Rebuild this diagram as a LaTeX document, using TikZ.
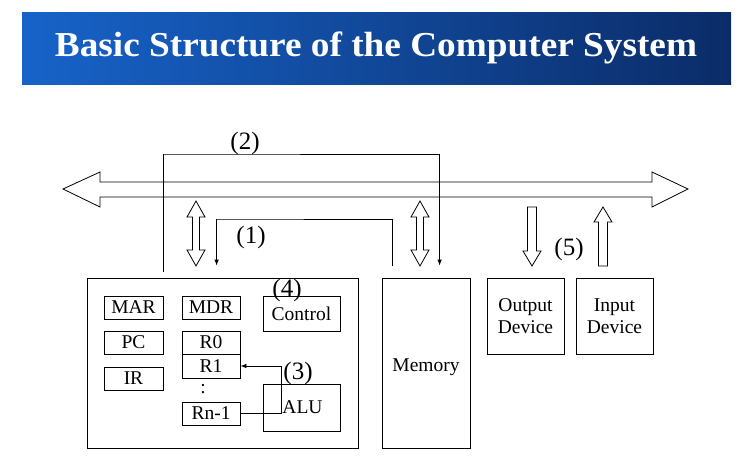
\documentclass[tikz,border=0pt]{standalone}
\usepackage{fontspec}
\setmainfont{Liberation Serif}
\usetikzlibrary{arrows.meta,calc}
\definecolor{bannerL}{HTML}{1763C9}
\definecolor{bannerR}{HTML}{0B2C68}
\begin{document}
\begin{tikzpicture}[x=1pt,y=-1pt,line width=0.8pt,
  box/.style={draw,inner sep=0pt,font=\fontsize{19.5}{22.5}\selectfont,align=center},
  lbl/.style={inner sep=0pt,font=\fontsize{25}{26}\selectfont},
  conn/.style={line width=0.8pt},
  tip/.style={-{Latex[length=6pt,width=4.5pt]}},
  hollow/.style={draw,fill=white,line width=0.8pt,line join=miter}]
\useasboundingbox (0,0) rectangle (750,474);
\fill[white] (0,0) rectangle (750,474);
% banner
\shade[left color=bannerL,right color=bannerR] (22,12) rectangle (731,84);
\node[text=white,font=\bfseries\fontsize{35}{37}\selectfont] (title) at (376,48) {\scalebox{1.065}[1]{Basic Structure of the Computer System}};
% bus arrow
\draw[hollow] (63,189) -- (100,172) -- (100,182) -- (652,182) -- (652,172) -- (688,189)
  -- (652,207) -- (652,197) -- (100,197) -- (100,207) -- cycle;
% boxes
\node[box,minimum width=271,minimum height=170] (cpu) at (222.5,363) {};
\node[box,minimum width=59,minimum height=23] (mar) at (133.5,307.5) {MAR};
\node[box,minimum width=59,minimum height=23] (pc) at (133.5,342.5) {PC};
\node[box,minimum width=59,minimum height=23] (ir) at (133.5,378.5) {IR};
\node[box,minimum width=58,minimum height=23] (mdr) at (211,307.5) {MDR};
\node[box,minimum width=58,minimum height=23] (r0) at (211,342.5) {R0};
\node[box,minimum width=58,minimum height=24] (r1) at (211,366) {R1};
\node[inner sep=0pt,font=\fontsize{19.5}{22}\selectfont] (dots) at (203,389) {:};
\node[box,minimum width=58,minimum height=23] (rn) at (211,413.5) {Rn-1};
\node[box,minimum width=77,minimum height=35] (ctrl) at (301.5,313.5) {Control};
\node[box,minimum width=77,minimum height=47] (alu) at (301.5,407.5) {\hspace*{2pt}ALU};
\node[box,minimum width=88,minimum height=170] (mem) at (426,363) {\raisebox{-8pt}[0pt][0pt]{Memory}};
\node[box,minimum width=77,minimum height=76] (out) at (525.5,316) {Output\\Device};
\node[box,minimum width=77,minimum height=76] (in) at (614.5,316) {Input\\Device};
% small double arrows (CPU-bus, Memory-bus)
\foreach \cx in {196,420}{
  \draw[hollow] (\cx,201) -- (\cx+9,217) -- (\cx+3.5,217) -- (\cx+3.5,250) -- (\cx+9,250)
    -- (\cx,266) -- (\cx-9,250) -- (\cx-3.5,250) -- (\cx-3.5,217) -- (\cx-9,217) -- cycle;
}
% output (down) and input (up) arrows
\draw[hollow] (527.5,207) -- (536.5,207) -- (536.5,251) -- (541,251) -- (532,266)
  -- (523,251) -- (527.5,251) -- cycle;
\draw[hollow] (598.5,266) -- (607.5,266) -- (607.5,222) -- (612,222) -- (603,207)
  -- (594,222) -- (598.5,222) -- cycle;
% connectors
\coordinate (c2a) at ($(cpu.north west)+(77,-6)$);
\coordinate (c2b) at ($(mem.north west)+(58,-12)$);
\draw[conn,tip] (c2a) |- (164,154) -| (c2b);
\coordinate (c1a) at ($(mem.north west)+(11,-12)$);
\coordinate (c1b) at ($(cpu.north west)+(130,-12)$);
\draw[conn,tip] (c1a) |- (217,219) -| (c1b);
\draw[conn,tip] (rn.east) -- (281,413.5) |- (r1.east);
% labels
\node[lbl] (l2) at (245,143) {(2)};
\node[lbl] (l1) at (251,237) {(1)};
\node[lbl] (l4) at (287,290) {(4)};
\node[lbl] (l3) at (298,373) {(3)};
\node[lbl] (l5) at (569,249) {(5)};
\end{tikzpicture}
\end{document}
